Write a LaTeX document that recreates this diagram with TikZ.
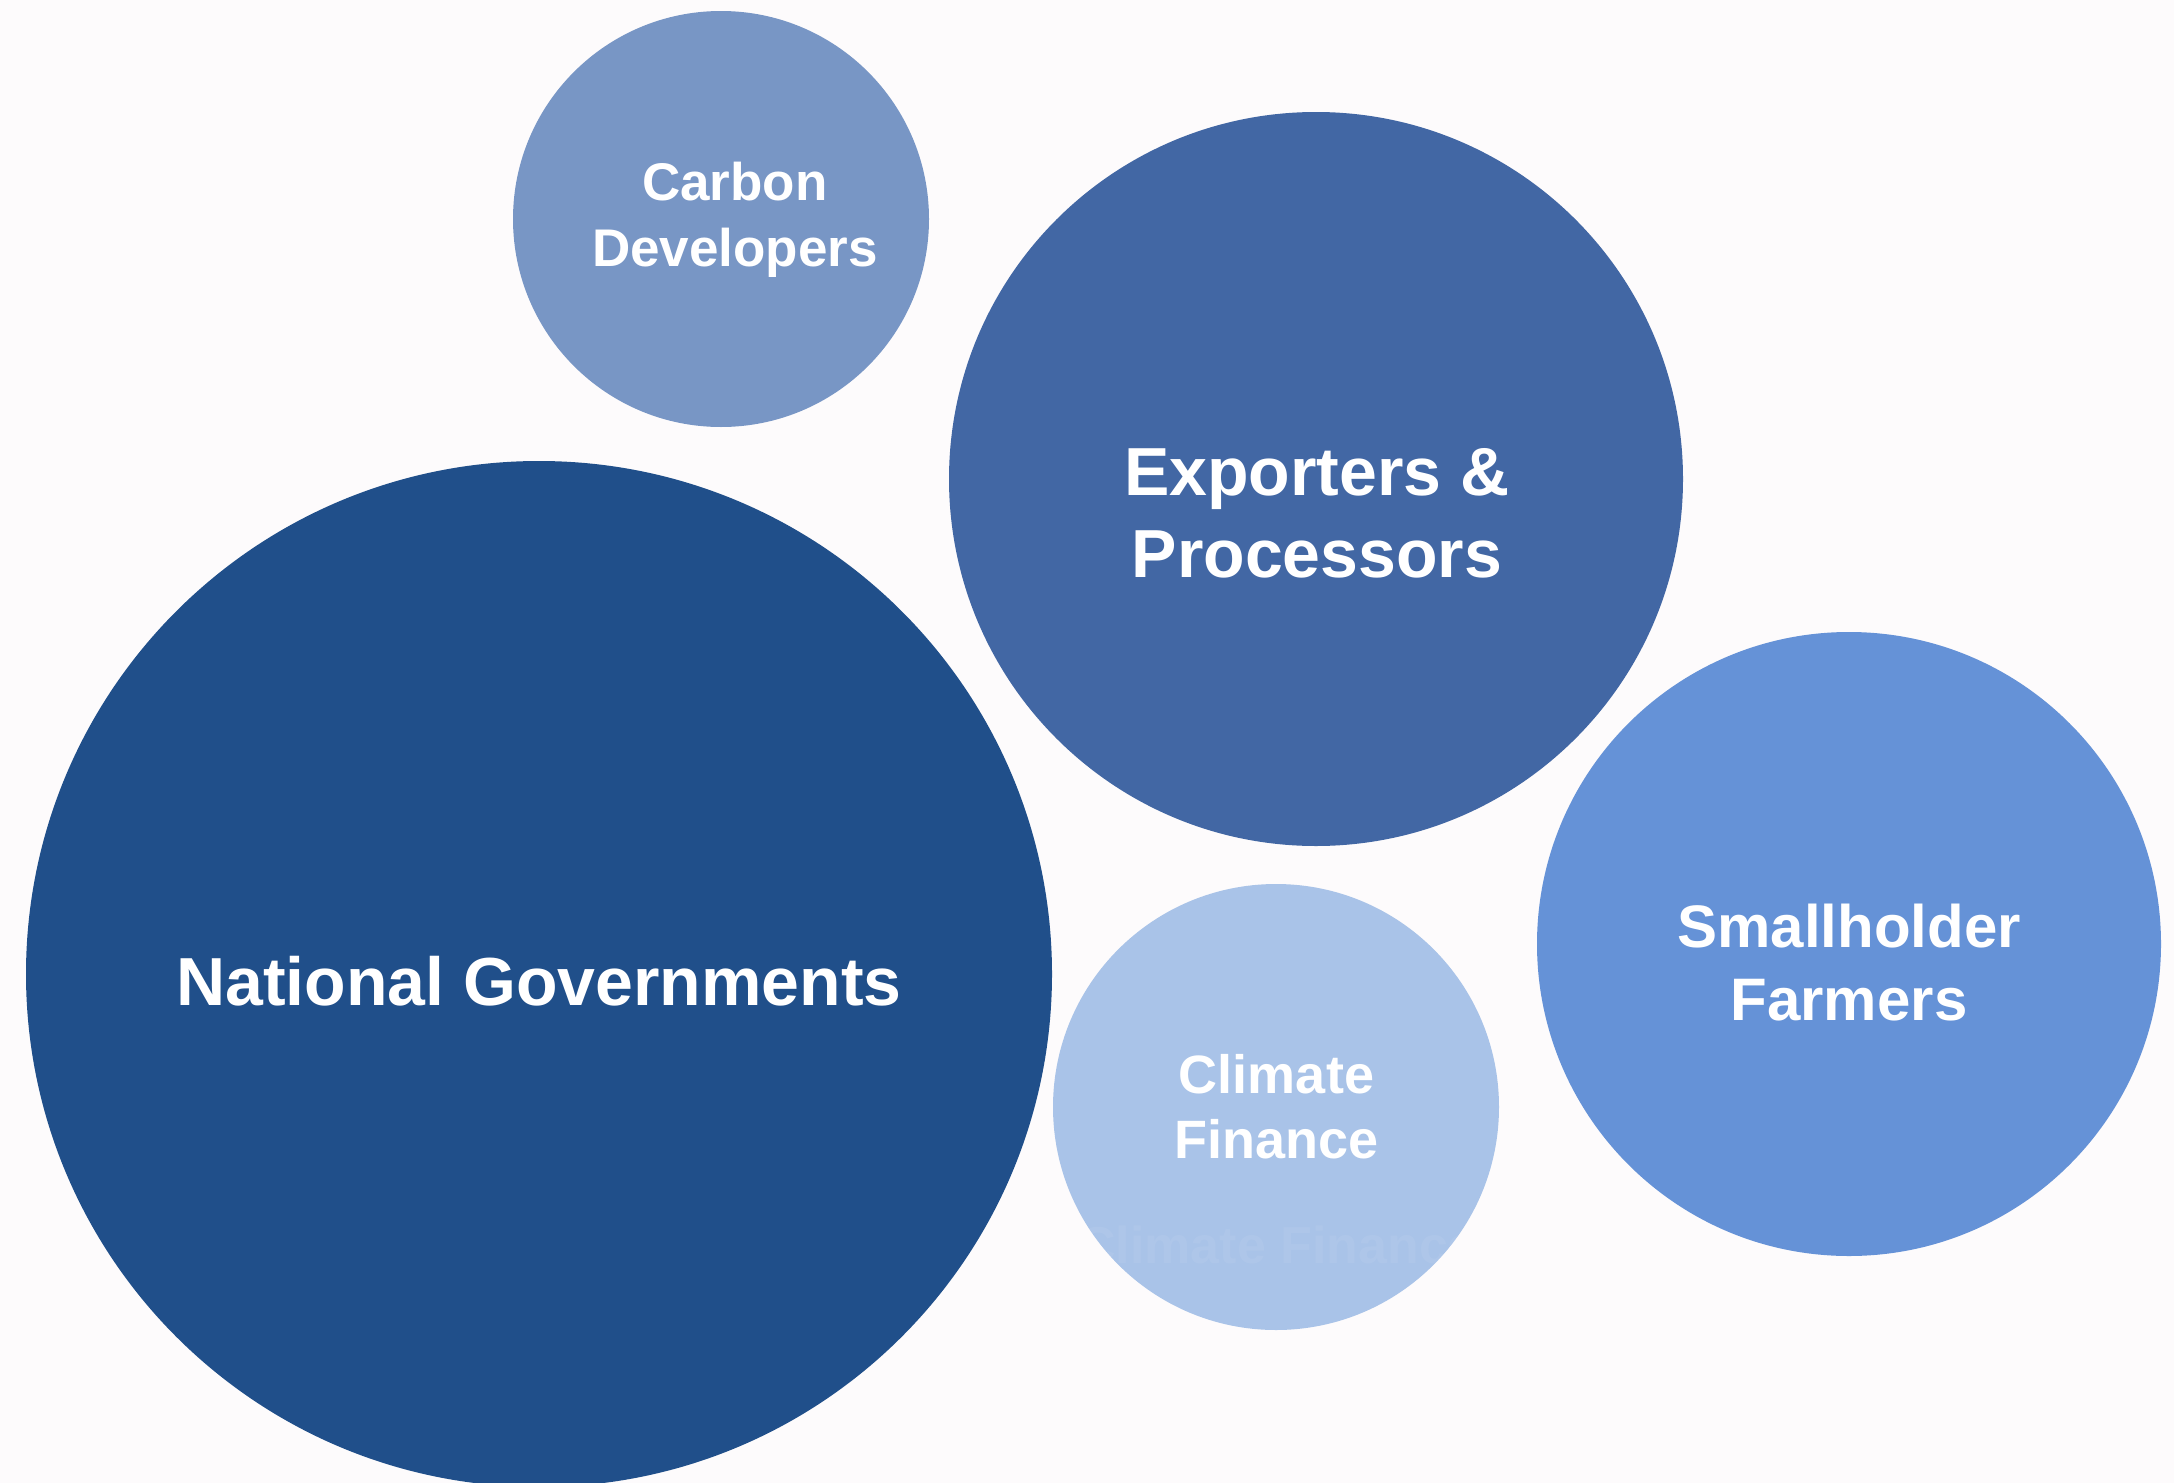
\documentclass[tikz,border=0pt]{standalone}
\usepackage{fontspec}
\setmainfont{Liberation Sans}
\usepackage{tikz}
\usetikzlibrary{
  	positioning,
  	calc
  }
\definecolor{bgwhite}{HTML}{FDFBFC}
\definecolor{natblue}{HTML}{204F8A}
\definecolor{expoblue}{HTML}{4267A4}
\definecolor{carbonblue}{HTML}{7896C5}
\definecolor{smallblue}{HTML}{6592D7}
\definecolor{climateblue}{HTML}{A9C3E8}
\tikzstyle{bubble}=[circle,inner sep=0pt,minimum size=#1 pt]
\tikzstyle{lab}=[text=white,align=center,anchor=base,inner sep=0pt]

\begin{document}
\begin{tikzpicture}[x=0.5pt,y=-0.5pt]
	\fill[bgwhite] (0,0) rectangle (2174,1483);
	\useasboundingbox (0,0) rectangle (2174,1483);
	\clip (0,0) rectangle (2174,1483);
	\foreach \nm/\x/\y/\r/\c in {carbon/721/219/208/carbonblue,
		expo/1316/479/367/expoblue,
		natgov/539/974/513/natblue,
		climate/1276/1107/223/climateblue,
		small/1849/944/312/smallblue} {
  	\node[bubble=\r, fill=\c] at (\x,\y) (\nm) {};
	}
%
	\node[lab, font=\bfseries\fontsize{26.5}{33}\selectfont]
		at ($(carbon.center)+(14,47)$) (carbonlab) {Carbon\\Developers};
	\node[lab, font=\bfseries\fontsize{34}{41.25}\selectfont]
		at ($(expo.center)+(1,98.5)$) (expolab) {Exporters \&\\Processors};
	\node[lab, font=\bfseries\fontsize{34}{41}\selectfont]
		at ($(natgov.center)+(0,31.6)$) (natgovlab) {National Governments};
	\node[lab, font=\bfseries\fontsize{27}{32.5}\selectfont]
		at ($(climate.center)+(0.5,51)$) (climatelab) {Climate\\Finance};
	\node[lab, font=\bfseries\fontsize{30}{36.5}\selectfont]
		at ($(small.center)+(0,76)$) (smalllab) {Smallholder\\Farmers};
	\node[lab, opacity=.06, font=\bfseries\fontsize{26}{31}\selectfont]
		at ($(climate.center)+(1.5,156)$) (climateghost) {Climate Finance};
\end{tikzpicture}
\end{document}
